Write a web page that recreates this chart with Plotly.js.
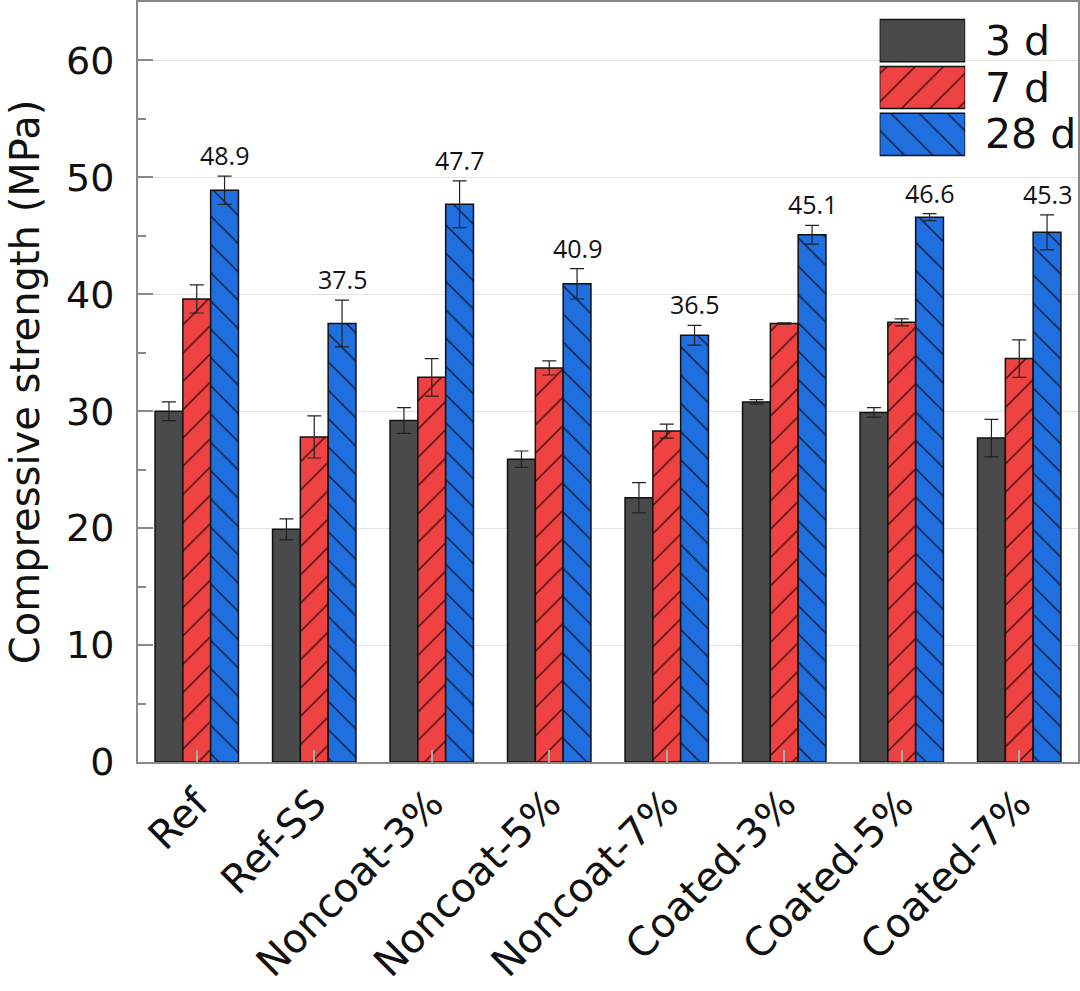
<!DOCTYPE html>
<html>
<head>
<meta charset="utf-8">
<script src="https://cdn.plot.ly/plotly-3.0.1.min.js"></script>
<style>html,body{margin:0;padding:0;background:#fff}#chart{width:1080px;height:991px}</style>
</head>
<body>
<div id="chart"></div>
<script>
// ---- data ----
var categories = ['Ref', 'Ref-SS', 'Noncoat-3%', 'Noncoat-5%', 'Noncoat-7%', 'Coated-3%', 'Coated-5%', 'Coated-7%'];
var seriesNames = ['3 d', '7 d', '28 d'];
var values3d  = [30.0, 19.9, 29.2, 25.9, 22.6, 30.8, 29.9, 27.7];
var errors3d  = [0.8, 0.9, 1.1, 0.7, 1.3, 0.2, 0.4, 1.6];
var values7d  = [39.6, 27.8, 32.9, 33.7, 28.3, 37.5, 37.6, 34.5];
var errors7d  = [1.2, 1.8, 1.6, 0.6, 0.6, 0.05, 0.3, 1.6];
var values28d = [48.9, 37.5, 47.7, 40.9, 36.5, 45.1, 46.6, 45.3];
var errors28d = [1.2, 2.0, 2.0, 1.3, 0.85, 0.8, 0.3, 1.5];
var yTickVals = [0, 10, 20, 30, 40, 50, 60];

// ---- styles ----
var styles = [
  {color: '#4a4a4a', shape: '', fg: '#222'},
  {color: '#ef4343', shape: '/', fg: '#3a0c0c'},
  {color: '#1f6fde', shape: '\\', fg: '#0b1a3c'}
];
var allValues = [values3d, values7d, values28d];
var allErrors = [errors3d, errors7d, errors28d];
var BARGAP = 0.29;

function marker(s) {
  var m = {color: s.color, line: {color: '#111', width: 1.5}};
  if (s.shape) m.pattern = {shape: s.shape, size: 20, solidity: 0.07, fgcolor: s.fg, bgcolor: s.color, fillmode: 'replace'};
  return m;
}

var traces = [];
for (var k = 0; k < 3; k++) {
  traces.push({
    type: 'bar', name: seriesNames[k], x: categories, y: allValues[k],
    marker: marker(styles[k]),
    error_y: {type: 'data', array: allErrors[k], visible: true, color: '#222', thickness: 1.2, width: 7},
    showlegend: false, hoverinfo: 'skip'
  });
}
// legend swatches drawn as a small bar chart on its own axes
for (var k = 0; k < 3; k++) {
  traces.push({
    type: 'bar', orientation: 'h', x: [1], y: [k], width: [0.9],
    xaxis: 'x2', yaxis: 'y2', marker: marker(styles[k]),
    showlegend: false, hoverinfo: 'skip'
  });
}

var annotations = [];
var offset = (1 - BARGAP) / 3;
for (var i = 0; i < categories.length; i++) {
  annotations.push({
    xref: 'x', yref: 'y', x: i + offset, y: values28d[i] + errors28d[i],
    text: values28d[i].toFixed(1), showarrow: false, yanchor: 'bottom', xanchor: 'center', yshift: 2,
    font: {family: 'Open Sans', size: 25, color: '#111'}
  });
}
for (var k = 0; k < 3; k++) {
  annotations.push({
    xref: 'paper', yref: 'y2', x: 0.899, y: k, text: seriesNames[k], showarrow: false,
    xanchor: 'left', yanchor: 'middle', font: {family: 'DejaVu Sans', size: 41, color: '#111'}
  });
}

var layout = {
  width: 1080, height: 991,
  margin: {l: 138, r: 2, t: 2, b: 229},
  paper_bgcolor: '#fff', plot_bgcolor: '#fff',
  barmode: 'group', bargap: BARGAP, bargroupgap: 0,
  showlegend: false,
  font: {family: 'DejaVu Sans', color: '#111'},
  xaxis: {
    type: 'category', range: [-0.5, 7.5], tickangle: -45,
    tickfont: {family: 'DejaVu Sans', size: 40, color: '#111'},
    ticks: 'inside', ticklen: 12, tickwidth: 2, tickcolor: '#aaa',
    showline: true, linecolor: '#8a8a8a', linewidth: 2, mirror: true,
    showgrid: false, zeroline: false, fixedrange: true
  },
  yaxis: {
    range: [0, 65], tickvals: yTickVals,
    tickfont: {family: 'DejaVu Sans', size: 38, color: '#111'},
    ticks: 'inside', ticklen: 15, tickwidth: 2, tickcolor: '#8a8a8a',
    ticklabelstandoff: 14,
    minor: {dtick: 5, ticks: 'inside', ticklen: 8, tickwidth: 2, tickcolor: '#8a8a8a', showgrid: false},
    showline: true, linecolor: '#8a8a8a', linewidth: 2, mirror: true,
    showgrid: true, gridcolor: '#e2e2e2', gridwidth: 1, zeroline: false,
    title: {text: 'Compressive strength (MPa)', font: {family: 'DejaVu Sans', size: 40, color: '#111'}, standoff: 14},
    automargin: false, fixedrange: true
  },
  xaxis2: {domain: [0.789, 0.880], range: [0, 1], anchor: 'y2', visible: false, fixedrange: true},
  yaxis2: {domain: [0.795, 0.980], range: [2.5, -0.5], anchor: 'x2', visible: false, fixedrange: true},
  annotations: annotations
};

Plotly.newPlot('chart', traces, layout, {displayModeBar: false, staticPlot: true});
</script>
</body>
</html>
